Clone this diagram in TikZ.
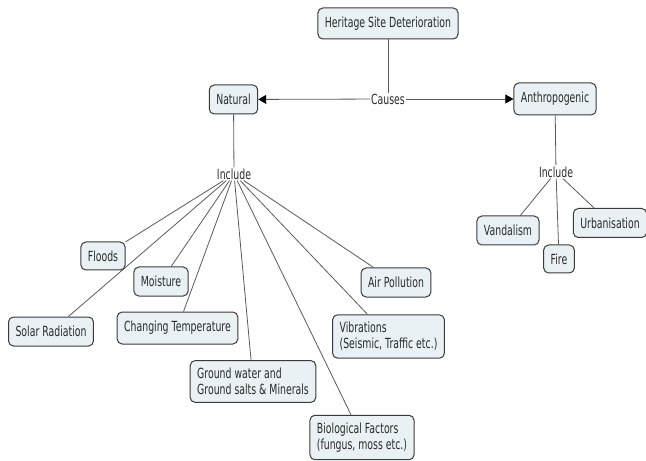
\documentclass[tikz,border=0pt]{standalone}
\usepackage{fontspec}
\setmainfont{DejaVu Sans}[FakeStretch=0.67]
\usetikzlibrary{arrows.meta}
\definecolor{boxfill}{HTML}{E9F1F5}
\definecolor{boxline}{HTML}{3A3A3A}
\definecolor{linkline}{HTML}{5A5A5A}
\definecolor{txt}{HTML}{2A2A2A}

\begin{document}
\begin{tikzpicture}
            [x=1bp,y=-1bp,
             concept/.style={rectangle,rounded corners=5bp,draw=boxline,line width=1bp,fill=boxfill,
                             text=txt,font=\fontsize{14}{16}\selectfont,align=left,
                             inner xsep=7bp,inner ysep=7.5bp,minimum height=29bp},
             phrase/.style={text=txt,font=\fontsize{14}{16}\selectfont,inner sep=1bp},
             link/.style={draw=linkline,line width=0.8bp},
             arrow/.style={link,-{Triangle[length=8bp,width=9bp,color=black]}}]
            \useasboundingbox (0,0) rectangle (646,461);

            \node[concept,minimum height=31bp] (HSD) at (388,23.5) {Heritage Site Deterioration};
            \node[phrase] (Cau) at (388,99) {Causes};
            \node[concept] (Nat) at (233.5,99.5) {Natural};
            \node[concept,minimum height=32bp] (Ant) at (555,99) {Anthropogenic};
            \node[phrase] (IncN) at (234,174) {Include};
            \node[phrase] (IncA) at (556,172) {Include};

            \node[concept,minimum height=28bp] (Flo) at (103,256) {Floods};
            \node[concept] (Moi) at (161,281.5) {Moisture};
            \node[concept] (Sol) at (51,331.5) {Solar Radiation};
            \node[concept,minimum height=32bp] (Tem) at (177.5,328) {Changing Temperature};
            \node[concept] (Gro) at (253,381.5) {Ground water and\\Ground salts \& Minerals};
            \node[concept] (Bio) at (362,437.5) {Biological Factors\\(fungus, moss etc.)};
            \node[concept] (Vib) at (388.5,336.5) {Vibrations\\(Seismic, Traffic etc.)};
            \node[concept] (Air) at (396,282.5) {Air Pollution};

            \node[concept] (Van) at (508,230.5) {Vandalism};
            \node[concept,minimum height=28bp] (Fir) at (559,259) {Fire};
            \node[concept] (Urb) at (610,223) {Urbanisation};

            \draw[link] (HSD) -- (Cau);
            \draw[arrow] (Cau) -- (Nat);
            \draw[arrow] (Cau) -- (Ant);
            \draw[link] (Nat) -- (IncN);
            \draw[link] (Ant) -- (IncA);

            \foreach \c in {Flo,Moi,Sol,Tem,Gro,Bio,Vib,Air}
              \draw[link] (IncN) -- (\c);
            \foreach \c in {Van,Fir,Urb}
              \draw[link] (IncA) -- (\c);
          \end{tikzpicture}
\end{document}
